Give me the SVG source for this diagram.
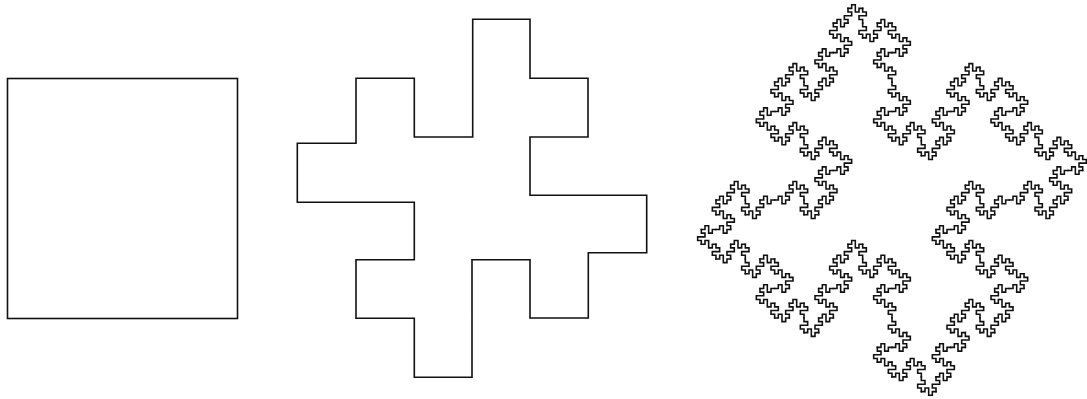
<svg xmlns="http://www.w3.org/2000/svg" xmlns:xlink="http://www.w3.org/1999/xlink" width="1087" height="399" viewBox="0 0 1087 399">
  <style>
    .ln { fill: none; stroke: #111; stroke-width: 1.6; stroke-linejoin: miter; stroke-linecap: square; }
    .fr { fill: none; stroke: #111; stroke-width: 0.43; stroke-linejoin: miter; stroke-linecap: square; }
  </style>
  <defs>
    <path id="g1" class="fr" d="M0,0 h1 v1 h1 v-2 h1 v1 h1"/>
    <g id="g2">
      <use xlink:href="#g1"/>
      <use xlink:href="#g1" transform="translate(4,0) rotate(90)"/>
      <use xlink:href="#g1" transform="translate(4,4)"/>
      <use xlink:href="#g1" transform="translate(8,4) rotate(-90)"/>
      <use xlink:href="#g1" transform="translate(8,0) rotate(-90)"/>
      <use xlink:href="#g1" transform="translate(8,-4)"/>
      <use xlink:href="#g1" transform="translate(12,-4) rotate(90)"/>
      <use xlink:href="#g1" transform="translate(12,0)"/>
    </g>
    <g id="g3">
      <use xlink:href="#g2"/>
      <use xlink:href="#g2" transform="translate(16,0) rotate(90)"/>
      <use xlink:href="#g2" transform="translate(16,16)"/>
      <use xlink:href="#g2" transform="translate(32,16) rotate(-90)"/>
      <use xlink:href="#g2" transform="translate(32,0) rotate(-90)"/>
      <use xlink:href="#g2" transform="translate(32,-16)"/>
      <use xlink:href="#g2" transform="translate(48,-16) rotate(90)"/>
      <use xlink:href="#g2" transform="translate(48,0)"/>
    </g>
  </defs>
  <rect width="1087" height="399" fill="#fff"/>
  <g id="square">
    <rect class="ln" x="7.5" y="78.5" width="230" height="240"/>
  </g>
  <g id="level1">
    <path class="ln" d="M297.3,143.3 H356 V78.3 H414.3 V137 H472.7 V19.3 H530 V78.3 H588 V137 H530 V195.3 H646.7 V252.7 H588.3 V318 H530 V259.7 H472 V377.3 H414.3 V318.3 H356 V259.7 H414.3 V202.3 H297.3 Z"/>
  </g>
  <g id="level3" transform="translate(892,200) scale(-3.667,3.685) translate(-32,-32)">
    <use xlink:href="#g3"/>
    <use xlink:href="#g3" transform="translate(64,0) rotate(90)"/>
    <use xlink:href="#g3" transform="translate(64,64) rotate(180)"/>
    <use xlink:href="#g3" transform="translate(0,64) rotate(270)"/>
  </g>
</svg>
